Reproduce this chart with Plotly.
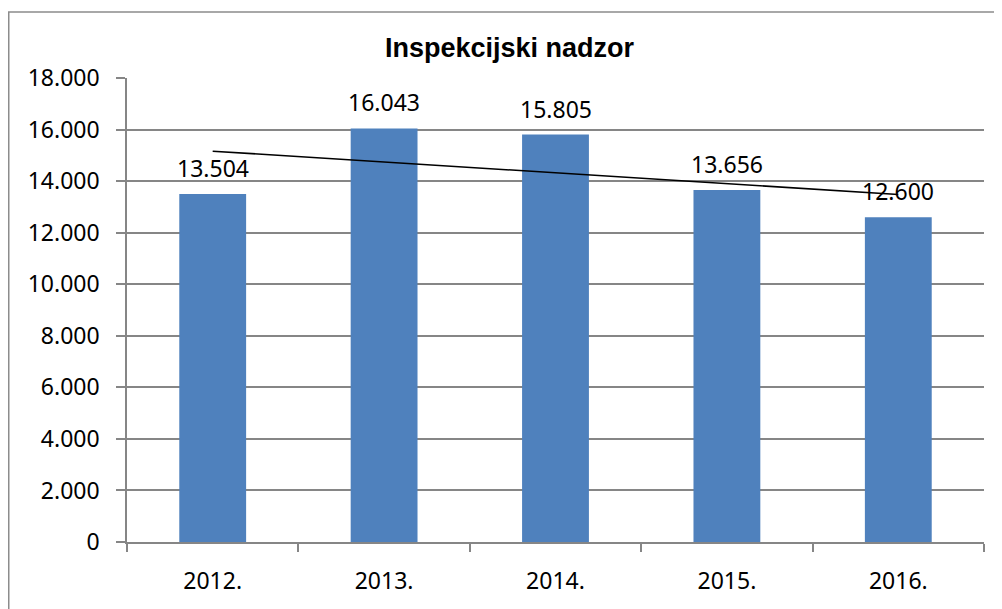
import numpy as np
import plotly.graph_objects as go

categories = ["2012.", "2013.", "2014.", "2015.", "2016."]
values = [13504, 16043, 15805, 13656, 12600]
value_labels = ["13.504", "16.043", "15.805", "13.656", "12.600"]
y_ticks = [0, 2000, 4000, 6000, 8000, 10000, 12000, 14000, 16000, 18000]
title_text = "Inspekcijski nadzor"

FONT = "Noto Sans"
GRID = "#868686"

# page body has an 8px offset; plot area in figure pixels
L, R, T, B = 119, 976, 70, 534
PW, PH = R - L, B - T

# linear trendline (least squares over category index, as in Excel)
idx = np.arange(1, len(values) + 1)
slope, intercept = np.polyfit(idx, values, 1)
trend = slope * idx + intercept

fig = go.Figure()
fig.add_trace(go.Bar(
    x=categories, y=values, width=0.39,
    marker=dict(color="#4F81BD", line=dict(width=0)),
    hoverinfo="skip", showlegend=False,
))
fig.add_trace(go.Scatter(
    x=categories, y=trend, mode="lines",
    line=dict(color="black", width=1.6),
    hoverinfo="skip", showlegend=False,
))

for i, (v, t) in enumerate(zip(values, value_labels)):
    fig.add_annotation(x=i, y=v, xref="x", yref="y", text=t, showarrow=False,
                       yanchor="bottom", yshift=8,
                       font=dict(family=FONT, size=23, color="#000000"))

fig.add_annotation(xref="paper", yref="paper", x=(502 - L) / PW, y=(B - 40) / PH,
                   text="<b>" + title_text + "</b>", showarrow=False,
                   xanchor="center", yanchor="middle",
                   font=dict(family="Liberation Sans", size=27, color="#000000"))

# outer chart-area border (left and top visible)
fig.add_shape(type="rect", xref="paper", yref="paper",
              x0=(0.75 - L) / PW, x1=1.2, y0=-0.4, y1=(B - 4) / PH,
              line=dict(color="#8c8c8c", width=1.5), fillcolor="rgba(0,0,0,0)", layer="below")

fig.update_layout(
    width=1002, height=609,
    margin=dict(l=L, r=1002 - R, t=T, b=609 - B),
    paper_bgcolor="white", plot_bgcolor="white",
    separators=",.",
    font=dict(family=FONT, size=23, color="#000000"),
)
fig.update_xaxes(
    type="category", showgrid=False, showline=True, linecolor=GRID, linewidth=1.5,
    ticks="outside", tickson="boundaries", ticklen=8, tickcolor=GRID, tickwidth=1.5,
    tickfont=dict(family=FONT, size=23), ticklabelstandoff=18,
    range=[-0.5, len(categories) - 0.5],
)
fig.update_yaxes(
    range=[0, 18000], tickvals=y_ticks, tickformat=",.0f",
    showgrid=True, gridcolor=GRID, gridwidth=1.5,
    showline=True, linecolor=GRID, linewidth=1.5,
    ticks="outside", ticklen=9, tickcolor=GRID, tickwidth=1.5,
    tickfont=dict(family=FONT, size=23), ticklabelstandoff=12,
    zeroline=False,
)

fig.write_html("out.html")
